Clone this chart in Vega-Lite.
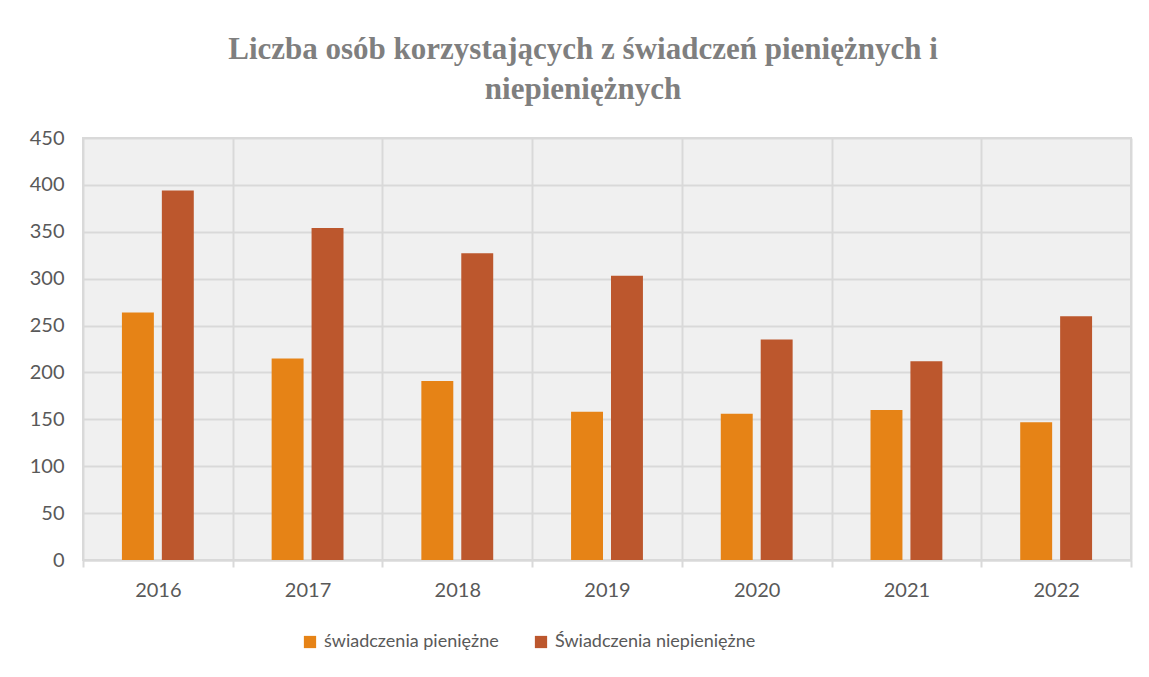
{
  "$schema": "https://vega.github.io/schema/vega-lite/v6.json",
  "width": 1048,
  "height": 422,
  "autosize": {"type": "none"},
  "padding": {"left": 83, "top": 138, "right": 18, "bottom": 117},
  "background": "white",
  "title": {
    "text": ["Liczba osób korzystających  z świadczeń pieniężnych i", "niepieniężnych"],
    "font": "Liberation Serif",
    "fontSize": 31,
    "fontWeight": "bold",
    "color": "#7f7f7f",
    "anchor": "middle",
    "dx": -24,
    "offset": 22,
    "lineHeight": 40
  },
  "data": {
    "values": [
      {"rok": "2016", "seria": "świadczenia pieniężne", "wartosc": 264},
      {"rok": "2016", "seria": "Świadczenia niepieniężne", "wartosc": 394},
      {"rok": "2017", "seria": "świadczenia pieniężne", "wartosc": 215},
      {"rok": "2017", "seria": "Świadczenia niepieniężne", "wartosc": 354},
      {"rok": "2018", "seria": "świadczenia pieniężne", "wartosc": 191},
      {"rok": "2018", "seria": "Świadczenia niepieniężne", "wartosc": 327},
      {"rok": "2019", "seria": "świadczenia pieniężne", "wartosc": 158},
      {"rok": "2019", "seria": "Świadczenia niepieniężne", "wartosc": 303},
      {"rok": "2020", "seria": "świadczenia pieniężne", "wartosc": 156},
      {"rok": "2020", "seria": "Świadczenia niepieniężne", "wartosc": 235},
      {"rok": "2021", "seria": "świadczenia pieniężne", "wartosc": 160},
      {"rok": "2021", "seria": "Świadczenia niepieniężne", "wartosc": 212},
      {"rok": "2022", "seria": "świadczenia pieniężne", "wartosc": 147},
      {"rok": "2022", "seria": "Świadczenia niepieniężne", "wartosc": 260}
    ]
  },
  "mark": {"type": "bar"},
  "encoding": {
    "x": {
      "field": "rok",
      "type": "nominal",
      "title": null,
      "scale": {"paddingInner": 0, "paddingOuter": 0},
      "axis": {
        "labelAngle": 0,
        "tickBand": "extent",
        "tickExtra": true,
        "grid": true,
        "gridColor": "#d9d9d9",
        "gridWidth": 2,
        "domainColor": "#d9d9d9",
        "domainWidth": 2,
        "tickColor": "#d9d9d9",
        "tickWidth": 2,
        "tickSize": 7,
        "labelPadding": 13,
        "labelFont": "Lato",
        "labelFontSize": 20,
        "labelColor": "#595959"
      }
    },
    "xOffset": {
      "field": "seria",
      "type": "nominal",
      "sort": ["świadczenia pieniężne", "Świadczenia niepieniężne"],
      "scale": {"paddingInner": 0.2, "paddingOuter": 0.975}
    },
    "y": {
      "field": "wartosc",
      "type": "quantitative",
      "title": null,
      "scale": {"domain": [0, 450]},
      "axis": {
        "values": [0, 50, 100, 150, 200, 250, 300, 350, 400, 450],
        "grid": true,
        "gridColor": "#d9d9d9",
        "gridWidth": 2,
        "domain": false,
        "ticks": false,
        "labelPadding": 19,
        "labelFont": "Lato",
        "labelFontSize": 20,
        "labelColor": "#595959"
      }
    },
    "color": {
      "field": "seria",
      "type": "nominal",
      "sort": ["świadczenia pieniężne", "Świadczenia niepieniężne"],
      "scale": {
        "domain": ["świadczenia pieniężne", "Świadczenia niepieniężne"],
        "range": ["#E68316", "#BC572D"]
      },
      "legend": {
        "title": null,
        "orient": "none",
        "direction": "horizontal",
        "legendX": 218,
        "legendY": 495,
        "symbolType": "square",
        "symbolSize": 150,
        "symbolStrokeWidth": 0,
        "labelFont": "Lato",
        "labelFontSize": 18,
        "labelColor": "#595959",
        "labelLimit": 0,
        "columnPadding": 33,
        "labelOffset": 5
      }
    }
  },
  "config": {
    "view": {"fill": "#f0f0f0", "stroke": "#d9d9d9", "strokeWidth": 2}
  }
}
